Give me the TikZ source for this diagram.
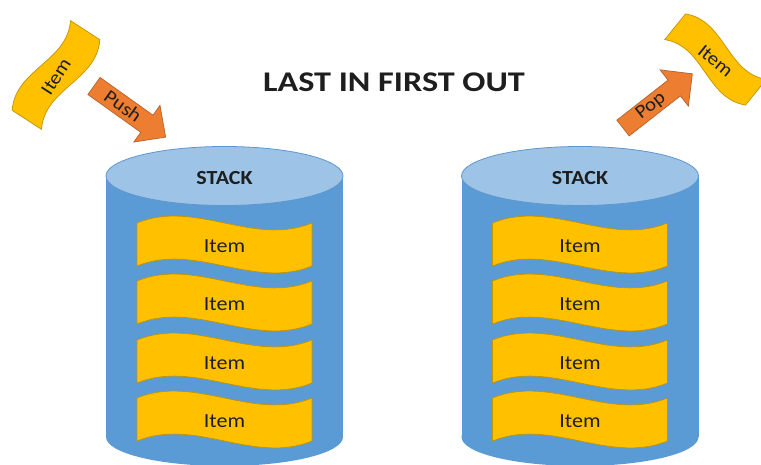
\documentclass[tikz,border=0pt]{standalone}
\usepackage{fontspec}
\setmainfont{Carlito}
\newfontfamily\labelfont{Carlito}[FakeStretch=1.1]
\newfontfamily\headfont{Carlito}[FakeStretch=1.2]
\definecolor{stackbody}{HTML}{5B9BD5}
\definecolor{stacktop}{HTML}{9DC3E6}
\definecolor{stackline}{HTML}{5E97CD}
\definecolor{itemfill}{HTML}{FFC000}
\definecolor{itemline}{HTML}{C39300}
\definecolor{arrowfill}{HTML}{ED7D31}
\definecolor{arrowline}{HTML}{B8612A}
\definecolor{ink}{HTML}{1E1E1E}

\tikzset{
  itemwave/.style={fill=itemfill, draw=itemline, line width=0.7pt},
  itemtext/.style={text=ink, inner sep=0pt},
  stacklabel/.style={text=ink, inner sep=0pt, font=\labelfont\bfseries\fontsize{20}{22}\selectfont},
  blockarrow/.style={fill=arrowfill, draw=arrowline, line width=0.7pt, line join=miter},
  arrowtext/.style={text=ink, inner sep=0pt, font=\labelfont\fontsize{19}{22}\selectfont},
}

% wavy banner item: name, x, y, angle, width, height, wave depth, font size
\newcommand\waveitem[8]{%
  \draw[itemwave, shift={(#2,#3)}, rotate=#4]
    (-#5/2,-#6/2) .. controls (-#5/6,-#6/2-#7) and (#5/6,-#6/2+#7) .. (#5/2,-#6/2)
    -- (#5/2,#6/2) .. controls (#5/6,#6/2+#7) and (-#5/6,#6/2-#7) .. (-#5/2,#6/2)
    -- cycle;
  \node[itemtext, rotate=#4, font=\labelfont\fontsize{#8}{#8}\selectfont] (#1) at (#2,#3+1.5) {Item};}

% cylinder: name prefix, centre x
\newcommand\stackcyl[2]{%
  \fill[stackbody] (#2,437) ellipse [x radius=118.5pt, y radius=29pt];
  \fill[stackbody] (#2-118.5,176) rectangle (#2+118.5,437);
  \draw[fill=stacktop, draw=stackline, line width=0.8pt] (#2,176) ellipse [x radius=118.5pt, y radius=29.5pt];
  \node[stacklabel] (#1label) at (#2,178.5) {STACK};}

\begin{document}
\begin{tikzpicture}[x=1pt, y=-1pt]
  \clip (0,0) rectangle (761,465);
  \fill[white] (0,0) rectangle (761,465);

  \node[text=ink, inner sep=0pt, font=\headfont\bfseries\fontsize{28.5}{32}\selectfont] (title) at (394,82) {LAST IN FIRST OUT};

  % left stack (push)
  \stackcyl{left}{224.5}
  \waveitem{leftA}{224.5}{244.5}{0}{175}{43}{24}{20}
  \waveitem{leftB}{224.5}{302.5}{0}{175}{43}{24}{20}
  \waveitem{leftC}{224.5}{361.5}{0}{175}{43}{24}{20}
  \waveitem{leftD}{224.5}{419.5}{0}{175}{43}{24}{20}

  % right stack (pop)
  \stackcyl{right}{580}
  \waveitem{rightA}{580}{244.5}{0}{175}{43}{24}{20}
  \waveitem{rightB}{580}{302.5}{0}{175}{43}{24}{20}
  \waveitem{rightC}{580}{361.5}{0}{175}{43}{24}{20}
  \waveitem{rightD}{580}{419.5}{0}{175}{43}{24}{20}

  % item being pushed, and the push arrow
  \waveitem{inItem}{56}{75}{57}{107}{35}{20}{19}
  \draw[blockarrow, shift={(94,86)}, rotate=-35.5]
    (0,-10.5) -- (65,-10.5) -- (65,-22.5) -- (88,0) -- (65,22.5) -- (65,10.5) -- (0,10.5) -- cycle;
  \node[arrowtext, rotate=-35.5] (push) at (123,106) {Push};

  % item being popped, and the pop arrow
  \draw[blockarrow, shift={(623,128)}, rotate=38]
    (0,-10) -- (65,-10) -- (65,-23) -- (88,0) -- (65,23) -- (65,10) -- (0,10) -- cycle;
  \node[arrowtext, rotate=38] (pop) at (651,106) {Pop};
  \waveitem{outItem}{715.5}{59.5}{-39}{104}{33}{20}{19}
\end{tikzpicture}
\end{document}
